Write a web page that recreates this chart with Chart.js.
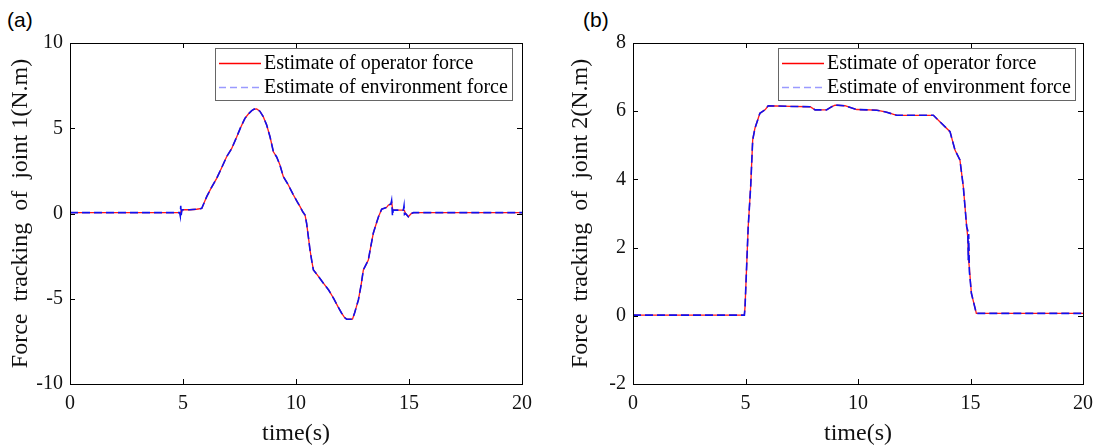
<!DOCTYPE html>
<html>
<head>
<meta charset="utf-8">
<script src="https://cdn.jsdelivr.net/npm/chart.js@4"></script>
<style>
  body { margin: 0; background: #fff; width: 1107px; height: 448px; position: relative; overflow: hidden; }
  canvas { position: absolute; top: 0; }
  .tag { position: absolute; top: 8px; font: 21px "Liberation Sans", Arial, sans-serif; color: #000; line-height: 24px; }
</style>
</head>
<body>
<div class="tag" style="left:7px">(a)</div>
<div class="tag" style="left:583px">(b)</div>
<canvas id="chartA" width="545" height="448" style="left:0"></canvas>
<canvas id="chartB" width="547" height="448" style="left:560px"></canvas>
<script>
// joint 1
const time1 = [0, 4.85, 4.88, 4.9, 4.92, 4.95, 5.0, 5.3, 5.6, 5.83, 6.05, 6.25, 6.49, 6.7, 6.93, 7.15, 7.38, 7.55, 7.74, 7.9, 8.04, 8.15, 8.26, 8.4, 8.55, 8.7, 8.85, 9.0, 9.15, 9.29, 9.44, 9.65, 9.88, 10.05, 10.18, 10.3, 10.4, 10.47, 10.55, 10.62, 10.7, 10.77, 11.0, 11.22, 11.45, 11.66, 11.85, 12.02, 12.15, 12.24, 12.5, 12.6, 12.76, 12.88, 12.98, 13.2, 13.3, 13.42, 13.55, 13.65, 13.79, 14.0, 14.09, 14.2, 14.23, 14.27, 14.3, 14.45, 14.75, 14.78, 14.8, 14.85, 14.97, 15.1, 15.2, 20];
const operator1 = [0.05, 0.05, 0.05, 0.1, 0.15, 0.2, 0.22, 0.22, 0.25, 0.3, 0.99, 1.5, 2.06, 2.65, 3.33, 3.8, 4.5, 5.05, 5.58, 5.85, 6.03, 6.12, 6.13, 6.0, 5.68, 5.2, 4.5, 3.62, 3.3, 2.84, 2.16, 1.7, 1.1, 0.7, 0.4, 0.1, -0.09, -0.58, -1.4, -2.14, -2.8, -3.31, -3.7, -4.1, -4.5, -4.97, -5.45, -5.85, -6.1, -6.2, -6.2, -5.8, -5.07, -4.2, -3.31, -2.73, -2.0, -1.16, -0.6, -0.19, 0.25, 0.35, 0.5, 0.55, 0.69, 0.3, 0.2, 0.2, 0.2, 0.2, 0.15, 0.0, -0.19, 0.0, 0.05, 0.05];
const environment1 = [0.05, 0.05, -0.15, 0.45, -0.1, 0.2, 0.22, 0.22, 0.25, 0.3, 0.99, 1.5, 2.06, 2.65, 3.33, 3.8, 4.5, 5.05, 5.58, 5.85, 6.03, 6.12, 6.13, 6.0, 5.68, 5.2, 4.5, 3.62, 3.3, 2.84, 2.16, 1.7, 1.1, 0.7, 0.4, 0.1, -0.09, -0.58, -1.4, -2.14, -2.8, -3.31, -3.7, -4.1, -4.5, -4.97, -5.45, -5.85, -6.1, -6.2, -6.2, -5.8, -5.07, -4.2, -3.31, -2.73, -2.0, -1.16, -0.6, -0.19, 0.25, 0.35, 0.5, 0.55, 0.75, -0.15, 0.2, 0.2, 0.2, 0.45, -0.05, 0.0, -0.19, 0.0, 0.05, 0.05];

// joint 2
const time2 = [0, 4.95, 4.98, 5.12, 5.23, 5.32, 5.42, 5.64, 5.87, 6.01, 7.0, 7.87, 8.09, 8.6, 8.8, 8.98, 9.42, 9.94, 10.83, 11.27, 11.72, 13.35, 13.64, 14.09, 14.31, 14.53, 14.68, 14.83, 14.88, 14.9, 14.92, 14.95, 15.04, 15.26, 20];
const operator2 = [0.02, 0.02, 0.27, 2.61, 3.79, 5.16, 5.5, 5.94, 6.04, 6.16, 6.14, 6.13, 6.04, 6.04, 6.12, 6.18, 6.16, 6.05, 6.03, 5.97, 5.88, 5.88, 5.69, 5.4, 4.86, 4.57, 3.79, 2.61, 2.3, 2.0, 1.6, 1.4, 0.66, 0.07, 0.07];
const environment2 = [0.02, 0.02, 0.27, 2.61, 3.79, 5.16, 5.5, 5.94, 6.04, 6.16, 6.14, 6.13, 6.04, 6.04, 6.12, 6.18, 6.16, 6.05, 6.03, 5.97, 5.88, 5.88, 5.69, 5.4, 4.86, 4.57, 3.79, 2.61, 2.5, 1.63, 2.4, 1.3, 0.66, 0.07, 0.07];

const xTicks = [0, 5, 10, 15, 20];
const yTicks1 = [-10, -5, 0, 5, 10];
const yTicks2 = [-2, 0, 2, 4, 6, 8];
const legendLabels = ["Estimate of operator force", "Estimate of environment force"];

const serif = '"Liberation Serif", "Times New Roman", serif';

function toPoints(xs, ys) {
  return xs.map((x, i) => ({ x, y: ys[i] }));
}

// box round the plot, inward ticks on all four sides, and the boxed legend
const framePlugin = {
  id: "frame",
  afterDraw(chart) {
    const { ctx, chartArea: a, scales } = chart;
    ctx.save();
    ctx.strokeStyle = "#000";
    ctx.lineWidth = 1;
    ctx.strokeRect(Math.round(a.left) + 0.5, Math.round(a.top) + 0.5, Math.round(a.right - a.left), Math.round(a.bottom - a.top));
    ctx.beginPath();
    scales.x.ticks.forEach((t) => {
      const px = Math.round(scales.x.getPixelForValue(t.value)) + 0.5;
      ctx.moveTo(px, a.bottom); ctx.lineTo(px, a.bottom - 5);
      ctx.moveTo(px, a.top); ctx.lineTo(px, a.top + 5);
    });
    scales.y.ticks.forEach((t) => {
      const py = Math.round(scales.y.getPixelForValue(t.value)) + 0.5;
      ctx.moveTo(a.left, py); ctx.lineTo(a.left + 5, py);
      ctx.moveTo(a.right, py); ctx.lineTo(a.right - 5, py);
    });
    ctx.stroke();

    const rightGap = chart.canvas.id === "chartA" ? 10 : 8;
    ctx.font = "20px " + serif;
    const textW = Math.max(...legendLabels.map((s) => ctx.measureText(s).width));
    const w = Math.round(49 + textW + 4);
    const h = 52;
    const left = Math.round(a.right - rightGap - w);
    const top = Math.round(a.top + 5);
    ctx.fillStyle = "#fff";
    ctx.fillRect(left, top, w, h);
    ctx.strokeStyle = "#666";
    ctx.strokeRect(left + 0.5, top + 0.5, w, h);
    const rows = [top + 15, top + 39];
    const styles = [
      { color: "#ff0000", dash: [], width: 1.3 },
      { color: "#9a9aff", dash: [7, 4], width: 1.6 },
    ];
    rows.forEach((y, i) => {
      ctx.beginPath();
      ctx.setLineDash(styles[i].dash);
      ctx.strokeStyle = styles[i].color;
      ctx.lineWidth = styles[i].width;
      ctx.moveTo(left + 4, y + 0.5);
      ctx.lineTo(left + 46, y + 0.5);
      ctx.stroke();
      ctx.setLineDash([]);
      ctx.fillStyle = "#000";
      ctx.textBaseline = "middle";
      ctx.textAlign = "left";
      ctx.fillText(legendLabels[i], left + 49, y + 1);
    });
    ctx.restore();
  },
};

function buildConfig(times, opVals, envVals, yTicks, yTitle, yWidth, rightPad) {
  return {
    type: "line",
    data: {
      datasets: [
        {
          label: legendLabels[0],
          data: toPoints(times, opVals),
          borderColor: "#ff1a1a",
          borderWidth: 1.3,
          pointRadius: 0,
          tension: 0,
          order: 1,
        },
        {
          label: legendLabels[1],
          data: toPoints(times, envVals),
          borderColor: "#1010ee",
          borderWidth: 1.6,
          borderDash: [8, 4],
          pointRadius: 0,
          tension: 0,
          order: 0,
        },
      ],
    },
    options: {
      responsive: false,
      animation: false,
      layout: { padding: { top: 43, right: rightPad, bottom: 0, left: 0 } },
      scales: {
        x: {
          type: "linear",
          min: xTicks[0],
          max: xTicks[xTicks.length - 1],
          afterBuildTicks: (s) => { s.ticks = xTicks.map((v) => ({ value: v })); },
          afterFit: (s) => { s.height = 64; },
          grid: { display: false, drawTicks: false },
          border: { display: false },
          ticks: { color: "#111", padding: 8, font: { family: serif, size: 20 } },
          title: {
            display: true,
            text: "time(s)",
            color: "#111",
            padding: { top: 0, bottom: 0 },
            font: { family: serif, size: 24 },
          },
        },
        y: {
          min: yTicks[0],
          max: yTicks[yTicks.length - 1],
          afterBuildTicks: (s) => { s.ticks = yTicks.map((v) => ({ value: v })); },
          afterFit: (s) => { s.width = yWidth; },
          grid: { display: false, drawTicks: false },
          border: { display: false },
          ticks: { color: "#111", padding: 7, font: { family: serif, size: 20 } },
          title: {
            display: true,
            text: yTitle,
            color: "#111",
            padding: { top: 6, bottom: 0 },
            font: { family: serif, size: 24 },
          },
        },
      },
      plugins: {
        legend: { display: false },
        tooltip: { enabled: false },
      },
    },
    plugins: [framePlugin],
  };
}

new Chart(document.getElementById("chartA"),
  buildConfig(time1, operator1, environment1, yTicks1, "Force  tracking  of  joint 1(N.m)", 70, 23));
new Chart(document.getElementById("chartB"),
  buildConfig(time2, operator2, environment2, yTicks2, "Force  tracking  of  joint 2(N.m)", 73, 24));
</script>
</body>
</html>
